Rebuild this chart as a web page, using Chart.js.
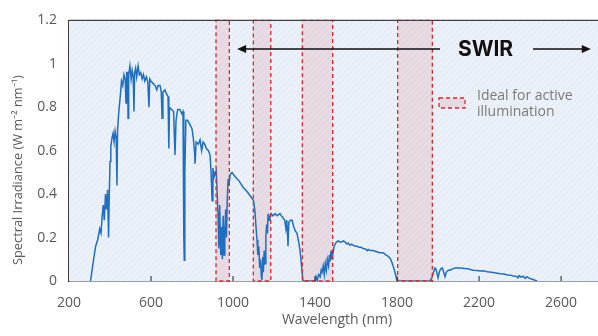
<!DOCTYPE html>
<html>
<head>
<meta charset="utf-8">
<script src="https://cdn.jsdelivr.net/npm/chart.js@4.4.1/dist/chart.umd.min.js"></script>
<style>
  html, body { margin: 0; padding: 0; background: #fff; }
  #wrap { width: 598px; height: 336px; }
</style>
</head>
<body>
<div id="wrap"><canvas id="spectrum" width="598" height="336"></canvas></div>
<script>
// wavelength (nm) and spectral irradiance (W m-2 nm-1)
const wavelength = [
  305, 320, 330, 340, 350, 356, 362, 367, 372, 378, 383, 388, 393, 396, 400, 404, 410, 415, 420, 425,
  430, 434, 437, 443, 450, 456, 462, 468, 474, 478, 481, 486, 488, 491, 497, 503, 508, 513, 517, 520,
  525, 530, 537, 543, 550, 557, 563, 570, 577, 584, 590, 594, 600, 610, 620, 628, 634, 644, 650, 654,
  658, 668, 676, 683, 687, 690, 700, 710, 717, 722, 730, 741, 750, 756, 760, 762, 765, 770, 778, 790,
  800, 806, 812, 815, 820, 830, 839, 847, 854, 862, 870, 880, 888, 893, 898, 902, 908, 913, 918, 922,
  927, 931, 935, 940, 944, 948, 952, 956, 960, 964, 968, 972, 976, 980, 986, 995, 1010, 1030, 1050, 1070,
  1093, 1100, 1107, 1112, 1117, 1121, 1126, 1130, 1134, 1138, 1141, 1145, 1148, 1152, 1156, 1160, 1164, 1168, 1171, 1176,
  1180, 1186, 1195, 1205, 1215, 1229, 1236, 1244, 1252, 1258, 1262, 1266, 1268, 1272, 1280, 1288, 1296, 1304, 1312, 1320,
  1327, 1334, 1341, 1400, 1405, 1410, 1418, 1425, 1430, 1434, 1440, 1445, 1450, 1455, 1460, 1466, 1470, 1473, 1478, 1482,
  1488, 1493, 1498, 1505, 1512, 1520, 1530, 1538, 1546, 1555, 1562, 1570, 1578, 1585, 1595, 1605, 1615, 1625, 1634, 1645,
  1655, 1660, 1670, 1683, 1700, 1715, 1732, 1745, 1755, 1766, 1775, 1782, 1790, 1796, 1800, 1960, 1970, 1978, 1985, 1990,
  1996, 2000, 2006, 2012, 2020, 2026, 2034, 2040, 2050, 2059, 2070, 2085, 2107, 2130, 2150, 2170, 2190, 2205, 2220, 2240,
  2260, 2275, 2288, 2305, 2320, 2340, 2355, 2366, 2380, 2390, 2395, 2405, 2415, 2425, 2434, 2445, 2460, 2475, 2483
];
const irradiance = [
  0, 0.1, 0.16, 0.19, 0.24, 0.22, 0.3, 0.35, 0.28, 0.4, 0.33, 0.42, 0.2, 0.38, 0.55, 0.62, 0.66, 0.68, 0.64, 0.69,
  0.66, 0.44, 0.7, 0.78, 0.85, 0.92, 0.9, 0.95, 0.93, 0.82, 0.96, 0.96, 0.75, 0.95, 0.99, 0.93, 0.97, 0.94, 0.78, 0.96,
  0.98, 0.94, 0.99, 0.95, 0.96, 0.93, 0.95, 0.92, 0.94, 0.92, 0.8, 0.93, 0.92, 0.91, 0.9, 0.88, 0.9, 0.9, 0.87, 0.75,
  0.87, 0.88, 0.86, 0.85, 0.61, 0.8, 0.79, 0.78, 0.58, 0.74, 0.79, 0.79, 0.77, 0.78, 0.2, 0.095, 0.5, 0.74, 0.74, 0.72,
  0.7, 0.66, 0.6, 0.54, 0.64, 0.63, 0.65, 0.6, 0.64, 0.63, 0.61, 0.6, 0.58, 0.5, 0.37, 0.52, 0.48, 0.5, 0.51, 0.42,
  0.3, 0.15, 0.35, 0.12, 0.25, 0.1, 0.3, 0.12, 0.22, 0.33, 0.2, 0.38, 0.47, 0.44, 0.49, 0.5, 0.48, 0.46, 0.43, 0.41,
  0.38, 0.37, 0.32, 0.25, 0.19, 0.12, 0.16, 0.06, 0.1, 0.02, 0.005, 0.11, 0.04, 0.14, 0.08, 0.2, 0.26, 0.22, 0.31, 0.28,
  0.3, 0.31, 0.3, 0.31, 0.3, 0.31, 0.3, 0.29, 0.28, 0.24, 0.28, 0.22, 0.16, 0.27, 0.28, 0.28, 0.25, 0.23, 0.22, 0.18,
  0.14, 0.07, 0, 0, 0.02, 0, 0.03, 0.02, 0.05, 0.04, 0.07, 0.03, 0.08, 0.05, 0.1, 0.07, 0.12, 0.09, 0.14, 0.1,
  0.13, 0.16, 0.17, 0.18, 0.185, 0.18, 0.18, 0.185, 0.18, 0.17, 0.175, 0.165, 0.17, 0.165, 0.16, 0.16, 0.155, 0.155, 0.15, 0.148,
  0.14, 0.145, 0.14, 0.14, 0.135, 0.13, 0.13, 0.12, 0.115, 0.105, 0.085, 0.065, 0.04, 0.015, 0, 0, 0.015, 0.04, 0.06, 0.055,
  0.03, 0.015, 0.04, 0.055, 0.06, 0.045, 0.02, 0.04, 0.05, 0.05, 0.056, 0.06, 0.06, 0.058, 0.055, 0.05, 0.048, 0.046, 0.047, 0.043,
  0.04, 0.038, 0.036, 0.033, 0.032, 0.028, 0.027, 0.023, 0.022, 0.015, 0.025, 0.018, 0.022, 0.012, 0.02, 0.012, 0.008, 0.003, 0
];

// bands marked "ideal for active illumination" [from, to] in nm
const bandStart = [917, 1099, 1338, 1803];
const bandEnd = [982, 1184, 1486, 1972];

const xTicks = [200, 600, 1000, 1400, 1800, 2200, 2600];
const swirLabel = "SWIR";
const legendLines = ["Ideal for active", "illumination"];
const xTitle = "Wavelength (nm)";
const yTitle = "Spectral Irradiance (W m\u207B\u00B2 nm\u207B\u00B9)";

const FONT = "'Open Sans', sans-serif";
const GREY = "#595959";
const AXIS = "#3f3f3f";

function hatch() {
  const c = document.createElement("canvas");
  c.width = 6; c.height = 6;
  const g = c.getContext("2d");
  g.fillStyle = "#e7eef7";
  g.fillRect(0, 0, 6, 6);
  g.strokeStyle = "#f3f6fa";
  g.lineWidth = 1;
  g.beginPath();
  g.moveTo(0, 6); g.lineTo(6, 0);
  g.moveTo(-3, 3); g.lineTo(3, -3);
  g.moveTo(3, 9); g.lineTo(9, 3);
  g.stroke();
  return c;
}

const backdrop = {
  id: "backdrop",
  beforeDatasetsDraw(chart) {
    const { ctx, chartArea: a, scales: { x, y } } = chart;
    ctx.save();
    ctx.fillStyle = ctx.createPattern(hatch(), "repeat");
    ctx.fillRect(a.left, a.top, a.right - a.left, a.bottom - a.top);
    // shaded bands
    ctx.fillStyle = "rgba(215, 120, 135, 0.18)";
    bandStart.forEach((s, i) => {
      const l = x.getPixelForValue(s), r = x.getPixelForValue(bandEnd[i]);
      ctx.fillRect(l, y.getPixelForValue(1.2), r - l, y.getPixelForValue(0) - y.getPixelForValue(1.2));
    });
    ctx.restore();
  },
  afterDatasetsDraw(chart) {
    const { ctx, chartArea: a, scales: { x, y } } = chart;
    ctx.save();
    // dashed band outlines
    ctx.strokeStyle = "#e0242e";
    ctx.lineWidth = 1.3;
    ctx.setLineDash([4, 3]);
    bandStart.forEach((s, i) => {
      const l = x.getPixelForValue(s), r = x.getPixelForValue(bandEnd[i]);
      const t = y.getPixelForValue(1.2), b = y.getPixelForValue(0);
      ctx.strokeRect(l, t, r - l, b - t);
    });
    // legend swatch
    const lx = 439, ly = 98;
    ctx.fillStyle = "rgba(215, 120, 135, 0.18)";
    ctx.fillRect(lx, ly, 26, 10);
    ctx.strokeRect(lx, ly, 26, 10);
    ctx.setLineDash([]);

    // top border and inward tick marks
    ctx.strokeStyle = AXIS;
    ctx.lineWidth = 1.2;
    ctx.beginPath();
    ctx.moveTo(a.left, a.top); ctx.lineTo(a.right, a.top);
    xTicks.slice(1).forEach(v => {
      const px = x.getPixelForValue(v);
      ctx.moveTo(px, a.bottom); ctx.lineTo(px, a.bottom - 5);
    });
    ctx.stroke();

    // SWIR arrow
    const ay = y.getPixelForValue(1.068);
    const x0 = x.getPixelForValue(1020), x1 = 440, x2 = 533, x3 = x.getPixelForValue(2745);
    ctx.strokeStyle = "#111";
    ctx.fillStyle = "#111";
    ctx.lineWidth = 1.6;
    ctx.beginPath();
    ctx.moveTo(x0 + 6, ay); ctx.lineTo(x1, ay);
    ctx.moveTo(x2, ay); ctx.lineTo(x3 - 6, ay);
    ctx.stroke();
    ctx.beginPath();
    ctx.moveTo(x0, ay); ctx.lineTo(x0 + 9, ay - 4); ctx.lineTo(x0 + 9, ay + 4); ctx.closePath();
    ctx.moveTo(x3, ay); ctx.lineTo(x3 - 9, ay - 4); ctx.lineTo(x3 - 9, ay + 4); ctx.closePath();
    ctx.fill();
    ctx.font = "bold 21px Inter, 'Open Sans', sans-serif";
    ctx.textAlign = "center";
    ctx.textBaseline = "middle";
    ctx.fillText(swirLabel, (x1 + x2) / 2 - 1, ay + 1);

    // legend text
    ctx.fillStyle = "#7a7a7a";
    ctx.font = "14px " + FONT;
    ctx.textAlign = "left";
    ctx.fillText(legendLines[0], 477, 96);
    ctx.fillText(legendLines[1], 477, 112);
    ctx.restore();
  },
  afterDraw(chart) {
    const { ctx } = chart;
    ctx.save();
    ctx.fillStyle = GREY;
    ctx.textAlign = "center";
    ctx.textBaseline = "middle";
    ctx.font = "14px " + FONT;
    ctx.fillText(xTitle, 337, 320);
    ctx.translate(18, 265);
    ctx.rotate(-Math.PI / 2);
    ctx.textAlign = "left";
    ctx.font = "12.8px " + FONT;
    ctx.fillText(yTitle, 0, 0);
    ctx.restore();
  }
};

Chart.defaults.font.family = FONT;
Chart.defaults.color = GREY;

new Chart(document.getElementById("spectrum"), {
  type: "line",
  data: {
    datasets: [{
      data: wavelength.map((w, i) => ({ x: w, y: irradiance[i] })),
      borderColor: "#1f6fc0",
      borderWidth: 1.5,
      pointRadius: 0,
      tension: 0,
    }],
  },
  options: {
    responsive: false,
    animation: false,
    devicePixelRatio: 1,
    layout: { padding: { top: 17, right: 0, left: 0, bottom: 0 } },
    plugins: { legend: { display: false }, tooltip: { enabled: false } },
    scales: {
      x: {
        type: "linear",
        min: 200,
        max: 2780,
        afterBuildTicks: s => { s.ticks = xTicks.map(v => ({ value: v })); },
        afterFit: s => { s.height = 55; },
        ticks: { padding: 14, font: { size: 14 }, color: GREY, maxRotation: 0, callback: v => String(v) },
        grid: { display: false, drawTicks: false },
        border: { display: true, color: AXIS, width: 1.5 },
      },
      y: {
        min: 0,
        max: 1.2,
        afterFit: s => { s.width = 69; },
        ticks: { stepSize: 0.2, padding: 12, font: { size: 14 }, color: GREY, callback: v => String(Math.round(v * 10) / 10) },
        grid: { display: false, drawTicks: false },
        border: { display: true, color: AXIS, width: 1.5 },
      },
    },
  },
  plugins: [backdrop],
});
</script>
</body>
</html>
